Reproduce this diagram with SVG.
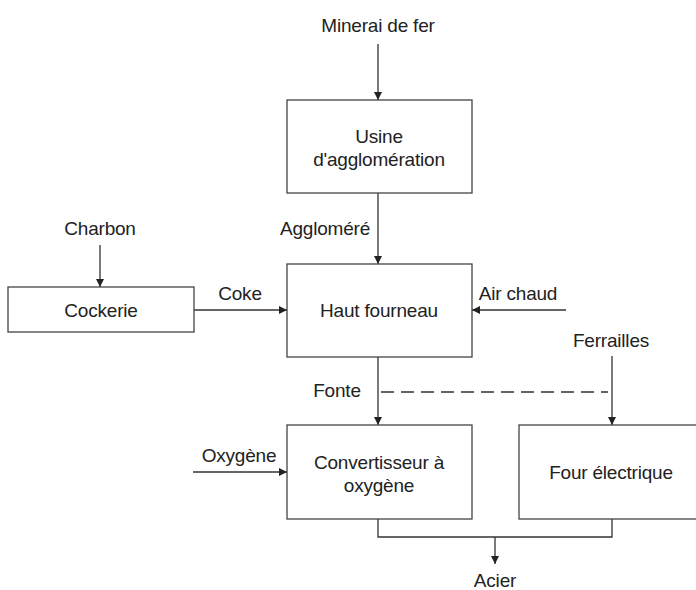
<svg xmlns="http://www.w3.org/2000/svg" width="696" height="590" viewBox="0 0 696 590">
<style>
.box{fill:#fff;stroke:#444;stroke-width:1.3}
.t{font-family:"Liberation Sans",Arial,sans-serif;font-size:19px;fill:#222;text-anchor:middle;letter-spacing:-0.2px}
.c{stroke:#333;stroke-width:1.3;fill:none}
.d{stroke:#333;stroke-width:1.3;fill:none;stroke-dasharray:13 7}
</style>
<defs>
<marker id="ah" viewBox="0 0 10 10" refX="10" refY="5" markerWidth="8" markerHeight="8" markerUnits="userSpaceOnUse" orient="auto">
<path d="M0,0 L10,5 L0,10 z" fill="#222"/>
</marker>
</defs>
<rect width="696" height="590" fill="#fff"/>
<g id="connectors">
<line class="c" x1="378" y1="44" x2="378" y2="100" marker-end="url(#ah)"/>
<line class="c" x1="378" y1="193" x2="378" y2="264" marker-end="url(#ah)"/>
<line class="c" x1="100" y1="245" x2="100" y2="287" marker-end="url(#ah)"/>
<line class="c" x1="194" y1="310" x2="287" y2="310" marker-end="url(#ah)"/>
<line class="c" x1="566" y1="310" x2="472" y2="310" marker-end="url(#ah)"/>
<line class="c" x1="378" y1="357" x2="378" y2="425" marker-end="url(#ah)"/>
<line class="d" x1="381" y1="392" x2="608" y2="392"/>
<line class="c" x1="612" y1="356" x2="612" y2="425" marker-end="url(#ah)"/>
<line class="c" x1="193" y1="472" x2="287" y2="472" marker-end="url(#ah)"/>
<polyline class="c" points="378,519 378,537 612,537 612,519"/>
<line class="c" x1="495" y1="537" x2="495" y2="564" marker-end="url(#ah)"/>
<text class="t" x="325" y="235">Aggloméré</text>
<text class="t" x="240" y="300">Coke</text>
<text class="t" x="518" y="300">Air chaud</text>
<text class="t" x="337" y="397">Fonte</text>
<text class="t" x="239" y="462">Oxygène</text>
</g>
<g id="minerai"><text class="t" x="378" y="32">Minerai de fer</text></g>
<g id="charbon"><text class="t" x="100" y="235">Charbon</text></g>
<g id="ferrailles"><text class="t" x="611" y="347">Ferrailles</text></g>
<g id="acier"><text class="t" x="495" y="587">Acier</text></g>
<g id="usine">
<rect class="box" x="287" y="100" width="185" height="93"/>
<text class="t" x="379" y="143">Usine</text>
<text class="t" x="379" y="166">d'agglomération</text>
</g>
<g id="cockerie">
<rect class="box" x="8" y="287" width="186" height="45"/>
<text class="t" x="101" y="317">Cockerie</text>
</g>
<g id="haut-fourneau">
<rect class="box" x="287" y="264" width="185" height="93"/>
<text class="t" x="379" y="317">Haut fourneau</text>
</g>
<g id="convertisseur">
<rect class="box" x="287" y="425" width="185" height="94"/>
<text class="t" x="379" y="469">Convertisseur à</text>
<text class="t" x="379" y="492">oxygène</text>
</g>
<g id="four">
<rect class="box" x="519" y="425" width="190" height="94"/>
<text class="t" x="611" y="479">Four électrique</text>
</g>
</svg>
